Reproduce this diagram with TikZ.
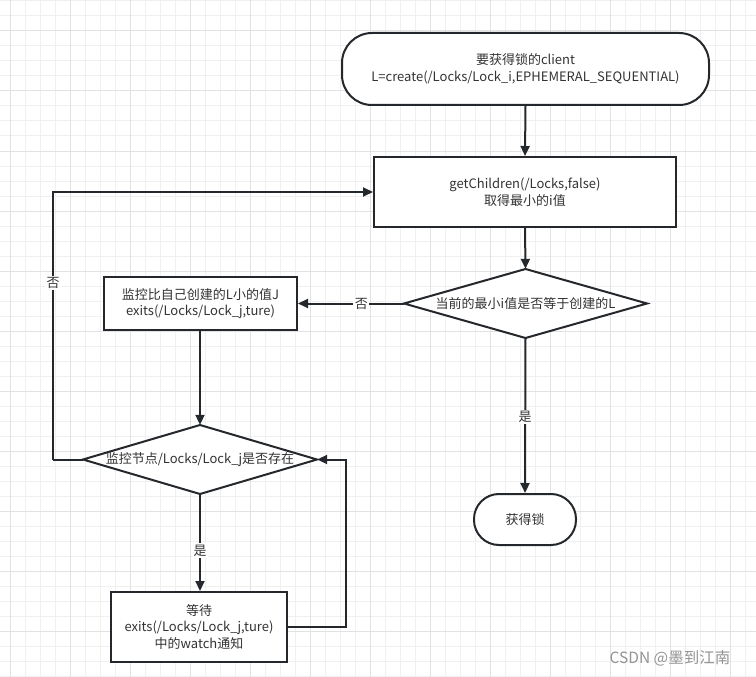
\documentclass[tikz,border=0pt]{standalone}
\usepackage{fontspec}
\setmainfont{Noto Sans CJK SC}
\usetikzlibrary{arrows.meta}
\definecolor{minorgrid}{HTML}{F0F0F0}
\definecolor{majorgrid}{HTML}{E2E2E2}
\definecolor{linec}{HTML}{24282C}
\definecolor{txtc}{HTML}{333333}
\tikzset{
  base/.style={draw=linec, line width=2pt, fill=white, text=txtc, inner sep=0pt, align=center, font=\fontsize{13}{16.5}\selectfont},
  procbox/.style={base, rectangle},
  termbox/.style={base, rectangle, rounded corners=#1},
  decide/.style={rectangle, text=txtc, inner sep=0pt, align=center, font=\fontsize{13}{16.5}\selectfont},
  diamondline/.style={draw=linec, line width=2pt, fill=white, line join=miter},
  conn/.style={draw=linec, line width=2pt, -{Triangle[length=10pt,width=9pt]}},
  plainconn/.style={draw=linec, line width=2pt},
  lbl/.style={fill=white, text=txtc, inner sep=1.5pt, font=\fontsize{13}{15}\selectfont}
}
\begin{document}
\begin{tikzpicture}[x=1pt,y=-1pt]
\useasboundingbox (0,0) rectangle (756,677);
\fill[white] (0,0) rectangle (756,677);
% grid
\foreach \i in {0,...,50} {
  \draw[minorgrid, line width=1pt] ({10+15*\i},0) -- ({10+15*\i},677);
}
\foreach \i in {0,...,45} {
  \draw[minorgrid, line width=1pt] (0,{1+15*\i}) -- (756,{1+15*\i});
}
\foreach \i in {0,...,12} {
  \draw[majorgrid, line width=1pt] ({10+60*\i},0) -- ({10+60*\i},677);
}
\foreach \i in {0,...,11} {
  \draw[majorgrid, line width=1pt] (0,{31+60*\i}) -- (756,{31+60*\i});
}

% diamond outlines (drawn under their text nodes)
\path[diamondline] (404,303.5) -- (525.5,269) -- (647,303.5) -- (525.5,338) -- cycle;
\path[diamondline] (83,459.5) -- (200,425) -- (317,459.5) -- (200,494) -- cycle;

% nodes
\node[termbox=30pt, minimum width=367pt, minimum height=72pt] (start) at (525.5,69) {要获得锁的client\\L=create(/Locks/Lock\_i,EPHEMERAL\_SEQUENTIAL)};
\node[procbox, minimum width=302pt, minimum height=70pt] (get) at (525,192) {getChildren(/Locks,false)\\取得最小的i值};
\node[decide, minimum width=243pt, minimum height=69pt] (d1) at (525.5,303.5) {当前的最小i值是否等于创建的L};
\node[procbox, minimum width=193pt, minimum height=53pt] (watch) at (200.5,303.5) {监控比自己创建的L小的值J\\exits(/Locks/Lock\_j,ture)};
\node[decide, minimum width=234pt, minimum height=69pt] (d2) at (200,459.5) {监控节点/Locks/Lock\_j是否存在};
\node[procbox, minimum width=176pt, minimum height=70pt] (wait) at (199,627) {等待\\exits(/Locks/Lock\_j,ture)\\中的watch通知};
\node[termbox=25pt, minimum width=102pt, minimum height=51pt] (got) at (525,519.5) {获得锁};

\coordinate (lt) at (53,459.5);
\coordinate (lb) at (53,192);
\coordinate (rb) at (346,627);
\coordinate (rt) at (346,459.5);

% connectors
\draw[conn] (start.south) -- (get.north);
\draw[conn] (get.south) -- (d1.north);
\draw[conn] (d1.west) -- node[lbl, pos=0.4] {否} (watch.east);
\draw[conn] (d1.south) -- node[lbl, pos=0.51] {是} (got.north);
\draw[conn] (watch.south -| d2.north) -- (d2.north);
\draw[conn] (d2.south) -- node[lbl, pos=0.58] {是} (d2.south |- wait.north);
\draw[plainconn] (d2.west) -- (lt);
\draw[conn] (lt) -- node[lbl, pos=0.66] {否} (lb) -- (get.west);
\draw[conn] (wait.east) -- (rb) -- (rt) -- (d2.east);

% watermark
\node[text=black!42, font=\fontsize{15.5}{17}\selectfont, inner sep=0pt] (wm) at (670,658) {CSDN @墨到江南};
\end{tikzpicture}
\end{document}
